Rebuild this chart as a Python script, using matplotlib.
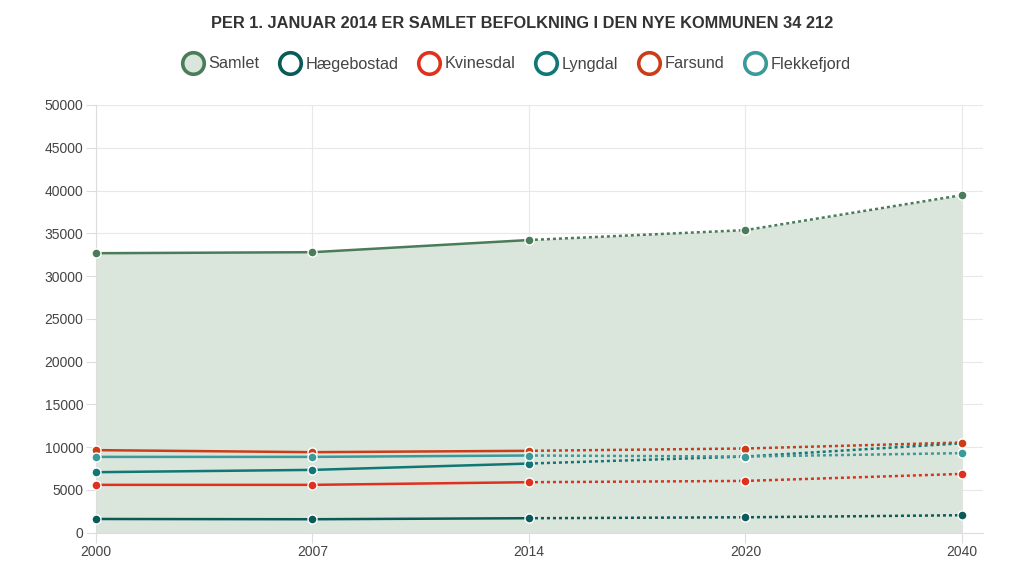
import matplotlib
matplotlib.use("Agg")
import matplotlib.pyplot as plt
from matplotlib.lines import Line2D

years = ["2000", "2007", "2014", "2020", "2040"]
samlet = [32670, 32790, 34212, 35370, 39460]
haegebostad = [1600, 1570, 1690, 1800, 2040]
kvinesdal = [5590, 5590, 5900, 6050, 6870]
lyngdal = [7070, 7340, 8080, 8900, 10450]
farsund = [9650, 9410, 9570, 9840, 10540]
flekkefjord = [8860, 8860, 9020, 8900, 9300]

series = [
    ("Samlet", samlet, "#4a7c59"),
    ("Hægebostad", haegebostad, "#0a5a58"),
    ("Kvinesdal", kvinesdal, "#e0301e"),
    ("Lyngdal", lyngdal, "#0f7775"),
    ("Farsund", farsund, "#cc3d17"),
    ("Flekkefjord", flekkefjord, "#3a9a9a"),
]
fill_color = "#dae5dc"
split = 2  # index of last actual (non-projected) value

plt.rcParams['font.family'] = ['Liberation Sans', 'DejaVu Sans']
fig = plt.figure(figsize=(10.31, 5.74), dpi=100)
ax = fig.add_axes([0.0931, 0.0720, 0.8603, 0.7451])
x = list(range(len(years)))

ax.fill_between(x, samlet, 0, color=fill_color, zorder=1, lw=0)

for i, (name, vals, col) in enumerate(series):
    z = 3 + i
    ax.plot(x[:split + 1], vals[:split + 1], color=col, lw=1.8, zorder=z,
            solid_capstyle='round')
    ax.plot(x[split:], vals[split:], color=col, lw=1.8, zorder=z,
            linestyle=(0, (1.2, 1.2)))
    ax.plot(x, vals, linestyle='none', marker='o', ms=6.5, mfc=col,
            mec='white', mew=1.0, zorder=z + 10, clip_on=False)

ax.set_xlim(0, 4.097)
ax.set_ylim(0, 50000)
ax.set_xticks(x)
ax.set_xticklabels(years)
ax.set_yticks(range(0, 50001, 5000))
ax.tick_params(axis='both', labelsize=10, colors='#444444', length=7,
               width=0.8, pad=2)
ax.tick_params(axis='both', color='#dddddd')
ax.grid(True, color='#e8e8e8', lw=0.8, zorder=0)
ax.set_axisbelow(True)
for s in ['top', 'right']:
    ax.spines[s].set_visible(False)
for s in ['left', 'bottom']:
    ax.spines[s].set_color('#dddddd')
    ax.spines[s].set_linewidth(0.8)

fig.text(0.506, 1 - 23 / 574, "PER 1. JANUAR 2014 ER SAMLET BEFOLKNING I DEN NYE KOMMUNEN 34 212",
         ha='center', va='center', fontsize=11.8, fontweight='bold', color='#333333')

handles = []
for i, (name, vals, col) in enumerate(series):
    fc = fill_color if i == 0 else 'white'
    handles.append(Line2D([], [], linestyle='none', marker='o', ms=15.5,
                          mfc=fc, mec=col, mew=2.6, label=name))
leg = fig.legend(handles=handles, loc='center', bbox_to_anchor=(0.501, 1 - 64 / 574),
                 ncol=6, frameon=False, fontsize=11.7, handletextpad=0.3,
                 columnspacing=1.25, handlelength=1.3)
for t in leg.get_texts():
    t.set_color('#444444')

fig.savefig("out.png", dpi=100)
